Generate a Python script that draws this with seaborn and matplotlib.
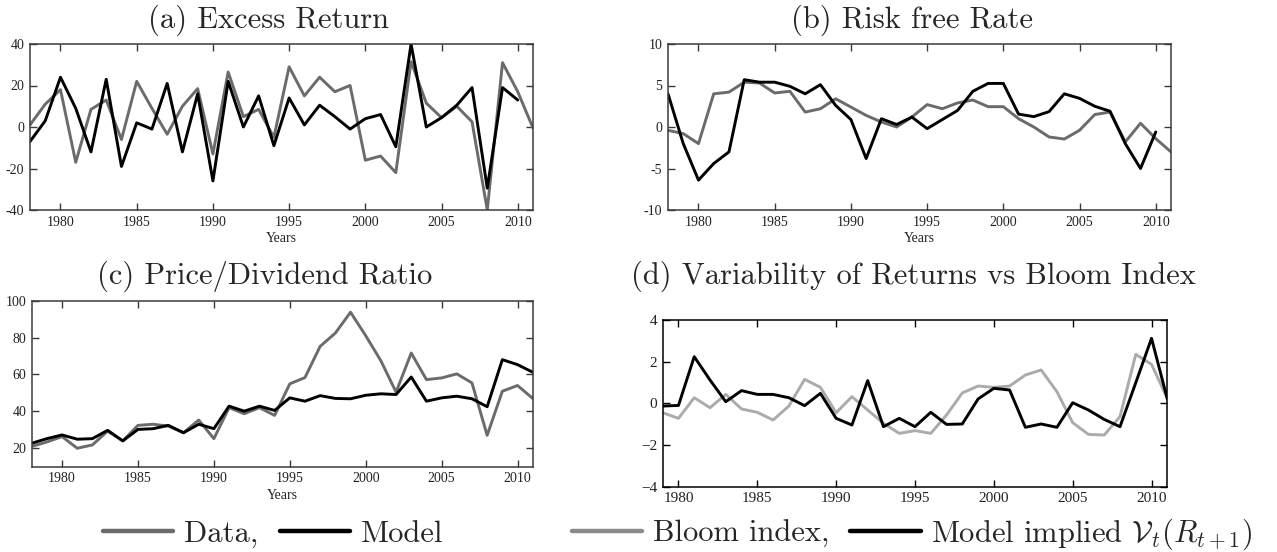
import matplotlib
matplotlib.use("Agg")
import matplotlib.pyplot as plt
from matplotlib.lines import Line2D
import seaborn as sns

# %% data
years = list(range(1978, 2012))          # 1978..2011
years_m = list(range(1978, 2011))        # model series in (a),(b) stop at 2010
years_d = list(range(1979, 2012))        # panel (d) starts 1979

excess_data = [1, 11, 18, -17, 8.5, 13, -6, 22, 9, -3.5, 10, 18.5, -13, 26.5, 5, 8.5, -5,
               29, 15, 24, 17, 20, -16, -14, -22, 31.5, 11.5, 4.5, 10, 2.5, -40, 31, 17, -0.5]
excess_model = [-7, 3, 24, 9, -12, 23, -19, 2, -1, 21, -12, 16, -26, 22, 0, 15, -9,
                14, 1, 10.5, 5, -1, 4, 6, -9.5, 40, 0, 4.5, 10.5, 19, -29.5, 19, 13]

riskfree_data = [-0.4, -0.8, -2, 4, 4.2, 5.4, 5.3, 4.1, 4.3, 1.8, 2.2, 3.4, 2.4, 1.4, 0.6, 0,
                 1.2, 2.7, 2.2, 2.9, 3.25, 2.45, 2.45, 1.0, 0.0, -1.2, -1.45, -0.4, 1.5, 1.8,
                 -1.8, 0.45, -1.4, -3]
riskfree_model = [4, -2, -6.4, -4.4, -3, 5.7, 5.4, 5.4, 4.9, 4.0, 5.1, 2.6, 0.9, -3.8, 1.0,
                  0.3, 1.2, -0.2, 0.9, 2.0, 4.3, 5.25, 5.25, 1.55, 1.25, 1.85, 4.0, 3.45, 2.5,
                  1.9, -2, -5, -0.6]

pd_data = [21, 23.4, 26.3, 20, 21.8, 29.3, 24, 32.4, 33, 32, 28.4, 35.3, 25.2, 42, 38.7, 42,
           37.8, 54.9, 58.3, 75.2, 82.4, 93.7, 81, 67.4, 50.4, 71.6, 57.2, 58.1, 60.3, 55.4,
           27, 50.9, 54, 47]
pd_model = [22.7, 25.2, 27.2, 24.9, 25.2, 29.7, 24, 30.2, 30.6, 32.4, 28.4, 33, 30.6, 42.8,
            40.1, 42.8, 40.5, 47.3, 45.5, 48.5, 47, 46.8, 48.7, 49.5, 49.1, 58.6, 45.5, 47.3,
            48.2, 46.8, 42.5, 68, 65.3, 61.2]

bloom = [-0.45, -0.72, 0.27, -0.21, 0.43, -0.27, -0.43, -0.8, -0.13, 1.15, 0.77, -0.45, 0.32,
         -0.32, -0.96, -1.44, -1.31, -1.44, -0.56, 0.5, 0.83, 0.77, 0.83, 1.36, 1.6, 0.56,
         -0.93, -1.49, -1.52, -0.64, 2.35, 1.87, 0.24]
vol_model = [-0.13, -0.1, 2.24, 1.12, 0.08, 0.61, 0.43, 0.43, 0.27, -0.11, 0.48, -0.72, -1.04,
             1.09, -1.12, -0.72, -1.12, -0.43, -1.01, -0.99, 0.21, 0.72, 0.64, -1.15, -0.99,
             -1.15, 0.03, -0.32, -0.77, -1.12, 0.99, 3.12, 0.21]

xticks = [1980, 1985, 1990, 1995, 2000, 2005, 2010]
yticks_a = [-40, -20, 0, 20, 40]
yticks_b = [-10, -5, 0, 5, 10]
yticks_c = [20, 40, 60, 80, 100]
yticks_d = [-4, -2, 0, 2, 4]

captions = ["(a) Excess Return", "(b) Risk free Rate",
            "(c) Price/Dividend Ratio", "(d) Variability of Returns vs Bloom Index"]

# %% style
sns.set_style("ticks")
plt.rcParams["font.family"] = ["Liberation Serif", "DejaVu Serif"]
plt.rcParams["mathtext.fontset"] = "cm"

GRAY = "#6b6b6b"
LIGHT = "#ababab"
SPINE = "#3a3a3a"
CAP = dict(family="cmr10", size=22)

W, H = 1277, 552
fig = plt.figure(figsize=(W / 100, H / 100), dpi=100)

def rect(x0, y0, x1, y1):
    return [x0 / W, 1 - y1 / H, (x1 - x0) / W, (y1 - y0) / H]

def style_axis(ax, yticks, ylim, xlim, color, minus, years_label):
    ax.set_xlim(*xlim)
    ax.set_ylim(*ylim)
    ax.set_xticks(xticks, [str(t) for t in xticks])
    ax.set_yticks(yticks, [str(t).replace("-", minus) for t in yticks])
    ax.tick_params(direction="in", top=True, right=True, length=5, width=1,
                   color=color, labelsize=10, labelcolor="#222222", pad=4)
    for sp in ax.spines.values():
        sp.set_visible(True)
        sp.set_color(color)
        sp.set_linewidth(1.1)
    if years_label:
        ax.set_xlabel("Years", fontsize=10, labelpad=2.5, color="#222222")
    else:
        ax.set_xlabel("")
    ax.set_ylabel("")

# (a)
ax = fig.add_axes(rect(30, 44, 533, 210))
sns.lineplot(x=years, y=excess_data, ax=ax, color=GRAY, lw=2.1)
sns.lineplot(x=years_m, y=excess_model, ax=ax, color="black", lw=2.1)
style_axis(ax, yticks_a, (-40, 40), (1978, 2011), SPINE, "-", True)

# (b)
ax = fig.add_axes(rect(668, 44, 1171, 210))
sns.lineplot(x=years, y=riskfree_data, ax=ax, color=GRAY, lw=2.1)
sns.lineplot(x=years_m, y=riskfree_model, ax=ax, color="black", lw=2.1)
style_axis(ax, yticks_b, (-10, 10), (1978, 2011), SPINE, "-", True)

# (c)
ax = fig.add_axes(rect(31.7, 300.6, 532.7, 466.7))
sns.lineplot(x=years, y=pd_data, ax=ax, color=GRAY, lw=2.1)
sns.lineplot(x=years, y=pd_model, ax=ax, color="black", lw=2.1)
style_axis(ax, yticks_c, (10, 100), (1978, 2011), SPINE, "-", True)

# (d)
ax = fig.add_axes(rect(662.7, 320, 1167.3, 486.7))
sns.lineplot(x=years_d, y=bloom, ax=ax, color=LIGHT, lw=2.1)
sns.lineplot(x=years_d, y=vol_model, ax=ax, color="black", lw=2.1)
style_axis(ax, yticks_d, (-4, 4), (1979, 2011), "black", "\u2212", False)
ax.tick_params(labelsize=11)

# captions
fig.text(268 / W, 1 - 20 / H, captions[0], ha="center", va="center", **CAP)
fig.text(912 / W, 1 - 20 / H, captions[1], ha="center", va="center", **CAP)
fig.text(265 / W, 1 - 276 / H, captions[2], ha="center", va="center", **CAP)
fig.text(913 / W, 1 - 276 / H, captions[3], ha="center", va="center", **CAP)

# legends
leg_kw = dict(loc="center", ncol=2, frameon=False, handlelength=2.3, handletextpad=0.35,
              columnspacing=0.7, prop=dict(family="cmr10", size=22), borderaxespad=0,
              borderpad=0.1)
h1 = [Line2D([], [], color=GRAY, lw=3.2), Line2D([], [], color="black", lw=3.2)]
fig.legend(h1, ["Data,", "Model"], bbox_to_anchor=(273 / W, 1 - 534 / H), **leg_kw)
h2 = [Line2D([], [], color="#8a8a8a", lw=3.2), Line2D([], [], color="black", lw=3.2)]
fig.legend(h2, ["Bloom index,", r"Model implied $\mathcal{V}_t(R_{t+1})$"],
           bbox_to_anchor=(912 / W, 1 - 534 / H), **leg_kw)

fig.savefig("out.png", dpi=100)
